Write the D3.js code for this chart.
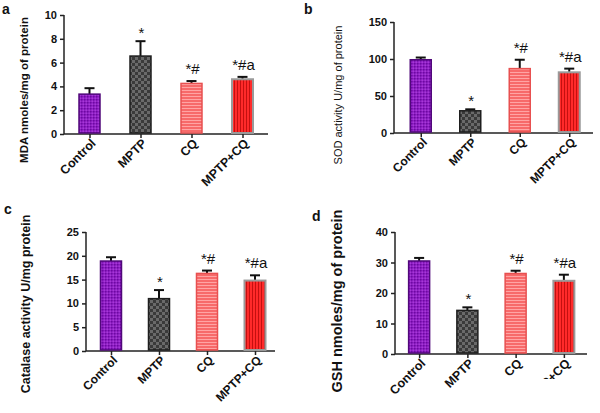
<!DOCTYPE html>
<html>
<head>
<meta charset="utf-8">
<script src="https://cdn.jsdelivr.net/npm/d3@7/dist/d3.min.js"></script>
<style>
  html, body { margin: 0; padding: 0; background: #fff; }
  svg { display: block; font-family: Arial, "Liberation Sans", sans-serif; }
</style>
</head>
<body>
<svg id="chart" width="600" height="413"></svg>
<script>
// ---------- data ----------
const categories = ["Control", "MPTP", "CQ", "MPTP+CQ"];
const sigLabels = ["", "*", "*#", "*#a"];

const mdaMean = [3.35, 6.55, 4.25, 4.6];
const mdaSem  = [0.5, 1.25, 0.2, 0.2];
const mdaTicks = [0, 2, 4, 6, 8, 10];

const sodMean = [99, 30, 87, 82];
const sodSem  = [3, 2, 12, 5];
const sodTicks = [0, 50, 100, 150];

const catMean = [18.9, 11, 16.3, 14.8];
const catSem  = [0.8, 1.8, 0.6, 1.1];
const catTicks = [0, 5, 10, 15, 20, 25];

const gshMean = [30.5, 14.3, 26.4, 24];
const gshSem  = [1, 1, 0.9, 2];
const gshTicks = [0, 10, 20, 30, 40];

const panelLetters = ["a", "b", "c", "d"];
const yTitles = ["MDA nmoles/mg of protein", "SOD activity U/mg of protein",
                 "Catalase activity U/mg protein", "GSH nmoles/mg of protein"];

// ---------- layout ----------
const panels = [
  { letter: panelLetters[0], title: yTitles[0], mean: mdaMean, sem: mdaSem, ticks: mdaTicks,
    axisX: 64, yTop: 15, yBot: 134, xr: [64, 268], xEnd: 268,
    titleX: 24, titleY: 90, titleSize: 11.5, titleWeight: "bold",
    letterX: 2, letterY: 14, xlabSize: 12.5 },
  { letter: panelLetters[1], title: yTitles[1], mean: sodMean, sem: sodSem, ticks: sodTicks,
    axisX: 394, yTop: 22, yBot: 133, xr: [396, 594], xEnd: 593,
    titleX: 338, titleY: 95, titleSize: 11, titleWeight: "normal",
    letterX: 304, letterY: 14, xlabSize: 12 },
  { letter: panelLetters[2], title: yTitles[2], mean: catMean, sem: catSem, ticks: catTicks,
    axisX: 86, yTop: 232, yBot: 351, xr: [87, 279], xEnd: 275,
    titleX: 26, titleY: 304, titleSize: 12.5, titleWeight: "bold",
    letterX: 4, letterY: 214, xlabSize: 12 },
  { letter: panelLetters[3], title: yTitles[3], mean: gshMean, sem: gshSem, ticks: gshTicks,
    axisX: 395, yTop: 232, yBot: 354, xr: [395, 588], xEnd: 587,
    titleX: 337, titleY: 301, titleSize: 14.5, titleWeight: "bold",
    letterX: 312, letterY: 221, xlabSize: 12.5, clipLast: 379 }
];

const svg = d3.select("#chart");
const defs = svg.append("defs");

// patterns
function pat(id, w, h, base, draw) {
  const p = defs.append("pattern").attr("id", id).attr("patternUnits", "userSpaceOnUse")
    .attr("width", w).attr("height", h);
  p.append("rect").attr("width", w).attr("height", h).attr("fill", base);
  draw(p);
}
pat("pControl", 3, 3, "#8e1cc4", p => {
  p.append("rect").attr("x", 0).attr("y", 0).attr("width", 1.5).attr("height", 1.5).attr("fill", "#6c0aa0");
  p.append("rect").attr("x", 1.5).attr("y", 1.5).attr("width", 1.5).attr("height", 1.5).attr("fill", "#a63ad6");
});
pat("pMPTP", 6, 6, "#3a3a3a", p => {
  p.append("rect").attr("x", 0).attr("y", 0).attr("width", 3).attr("height", 3).attr("fill", "#6a6a6a");
  p.append("rect").attr("x", 3).attr("y", 3).attr("width", 3).attr("height", 3).attr("fill", "#6a6a6a");
});
pat("pCQ", 4, 3, "#f76a6a", p => {
  p.append("rect").attr("x", 0).attr("y", 0).attr("width", 4).attr("height", 1).attr("fill", "#ffa4a4");
});
pat("pMC", 3, 4, "#ff2a2a", p => {
  p.append("rect").attr("x", 0).attr("y", 0).attr("width", 1).attr("height", 4).attr("fill", "#c41010");
});
const fills = ["url(#pControl)", "url(#pMPTP)", "url(#pCQ)", "url(#pMC)"];
const strokes = ["#50087a", "#1e1e1e", "#e85050", "#9a9a9a"];

panels.forEach((P, pi) => {
  const g = svg.append("g");
  const y = d3.scaleLinear().domain([P.ticks[0], P.ticks[P.ticks.length - 1]]).range([P.yBot, P.yTop]);
  const x = d3.scalePoint().domain(categories).range(P.xr).padding(0.5);
  const bw = 21;

  // panel letter
  g.append("text").attr("x", P.letterX).attr("y", P.letterY).text(P.letter)
    .attr("font-size", 14).attr("font-weight", "bold").attr("fill", "#111");

  // y axis
  const yAxis = d3.axisLeft(y).tickValues(P.ticks).tickSize(4).tickPadding(3).tickSizeOuter(0);
  const ya = g.append("g").attr("transform", `translate(${P.axisX},0)`).call(yAxis);
  ya.select(".domain").attr("stroke", "#222").attr("stroke-width", 1.5)
    .attr("d", `M0,${P.yTop}V${P.yBot}`);
  ya.selectAll(".tick line").attr("stroke", "#222").attr("stroke-width", 1.5);
  ya.selectAll(".tick text").attr("font-size", 11).attr("font-weight", "bold").attr("fill", "#111")
    .attr("font-family", "Arial, 'Liberation Sans', sans-serif");

  // x axis
  const xAxis = d3.axisBottom(x).tickSize(4).tickSizeOuter(0).tickFormat("");
  const xa = g.append("g").attr("transform", `translate(0,${P.yBot})`).call(xAxis);
  xa.select(".domain").attr("stroke", "#222").attr("stroke-width", 1.5)
    .attr("d", `M${P.axisX},0H${P.xEnd}`);
  xa.selectAll(".tick line").attr("stroke", "#222").attr("stroke-width", 1.5);

  // x labels
  let clipId = null;
  if (P.clipLast) {
    clipId = "clipd" + pi;
    defs.append("clipPath").attr("id", clipId).append("rect")
      .attr("x", 0).attr("y", 0).attr("width", 600).attr("height", P.clipLast);
  }
  categories.forEach((c, i) => {
    const tx = x(c) + 7, ty = P.yBot + 10;
    const t = g.append("text").text(c)
      .attr("transform", `translate(${tx},${ty}) rotate(-45)`)
      .attr("text-anchor", "end").attr("font-size", P.xlabSize).attr("font-weight", "bold")
      .attr("fill", "#111");
    if (clipId && i === categories.length - 1) {
      const wrap = g.append("g").attr("clip-path", `url(#${clipId})`);
      wrap.node().appendChild(t.node());
    }
  });

  // y title
  g.append("text").text(P.title)
    .attr("transform", `translate(${P.titleX},${P.titleY}) rotate(-90)`)
    .attr("text-anchor", "middle").attr("dominant-baseline", "central")
    .attr("font-size", P.titleSize).attr("font-weight", P.titleWeight).attr("fill", "#111");

  // error bars
  categories.forEach((c, i) => {
    const cx = x(c);
    const top = y(P.mean[i] + P.sem[i]);
    g.append("line").attr("x1", cx).attr("x2", cx).attr("y1", y(P.mean[i])).attr("y2", top)
      .attr("stroke", "#111").attr("stroke-width", 2);
    g.append("line").attr("x1", cx - 5).attr("x2", cx + 5).attr("y1", top).attr("y2", top)
      .attr("stroke", "#111").attr("stroke-width", 2);
  });

  // bars
  categories.forEach((c, i) => {
    const cx = x(c);
    g.append("rect").attr("x", cx - bw / 2).attr("y", y(P.mean[i]))
      .attr("width", bw).attr("height", y(0) - y(P.mean[i]) - 1)
      .attr("fill", fills[i]).attr("stroke", strokes[i]).attr("stroke-width", i === 3 ? 2 : 1.5);
  });

  // significance labels
  categories.forEach((c, i) => {
    if (!sigLabels[i]) return;
    const top = y(P.mean[i] + P.sem[i]);
    const off = sigLabels[i].length === 1 ? 3 : 7;
    g.append("text").text(sigLabels[i]).attr("x", x(c) + 1).attr("y", top - off)
      .attr("text-anchor", "middle").attr("font-size", 15).attr("fill", "#111");
  });
});
</script>
</body>
</html>
